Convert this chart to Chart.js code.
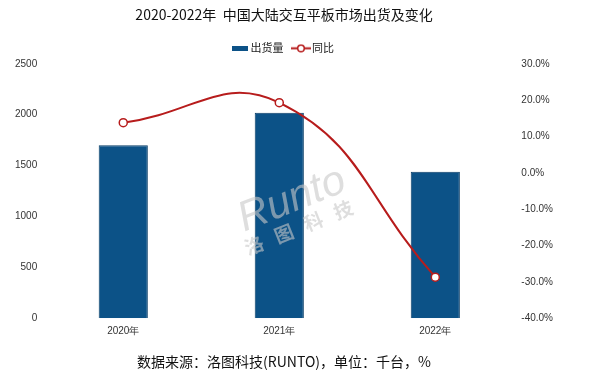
<!DOCTYPE html>
<html>
<head>
<meta charset="utf-8">
<script src="https://cdn.jsdelivr.net/npm/chart.js@4/dist/chart.umd.min.js"></script>
<style>
  html, body { margin: 0; padding: 0; background: #fff; }
  #wrap { width: 595px; height: 376px; }
</style>
</head>
<body>
<div id="wrap"><canvas id="grafico" width="595" height="376"></canvas></div>
<script>
const years = ['2020年', '2021年', '2022年'];
const shipments = [1700, 2020, 1440];
const yoy = [13.8, 19.3, -28.7];
const leftTicks = [0, 500, 1000, 1500, 2000, 2500];
const rightTicks = [-40, -30, -20, -10, 0, 10, 20, 30];

const navy = '#0c5287';
const red = '#b71c1c';

// iconos de la leyenda
function iconBar() {
  const c = document.createElement('canvas');
  c.width = 16; c.height = 5;
  const x = c.getContext('2d');
  x.fillStyle = navy;
  x.fillRect(0, 0, 16, 5);
  return c;
}
function iconLine() {
  const c = document.createElement('canvas');
  c.width = 20; c.height = 9;
  const x = c.getContext('2d');
  x.strokeStyle = red;
  x.lineWidth = 2;
  x.beginPath(); x.moveTo(0, 4.5); x.lineTo(20, 4.5); x.stroke();
  x.fillStyle = '#fff';
  x.lineWidth = 1.5;
  x.beginPath(); x.arc(10, 4.5, 3.3, 0, Math.PI * 2); x.fill(); x.stroke();
  return c;
}

const watermark = {
  id: 'watermark',
  afterDatasetsDraw(chart) {
    const ctx = chart.ctx;
    ctx.save();
    ctx.translate(292, 200);
    ctx.rotate(-0.38);
    ctx.fillStyle = 'rgba(200,200,200,0.6)';
    ctx.font = 'italic 42px "Liberation Sans"';
    ctx.textAlign = 'center';
    ctx.fillText('Runto', 0, 0);
    ctx.font = 'bold 19px "Noto Sans CJK SC"';
    ctx.fillText('洛   图   科   技', -4, 28);
    ctx.restore();
  }
};

let chart = new Chart(document.getElementById('grafico'), {
  data: {
    labels: years,
    datasets: [
      {
        type: 'bar',
        label: '出货量',
        data: shipments,
        backgroundColor: navy,
        borderColor: '#083d66',
        borderWidth: 1,
        barPercentage: 0.63,
        categoryPercentage: 0.5,
        yAxisID: 'y',
        order: 2
      },
      {
        type: 'line',
        label: '同比',
        data: yoy,
        borderColor: red,
        borderWidth: 2,
        tension: 0.45,
        pointRadius: 4,
        pointBorderWidth: 1.5,
        pointBackgroundColor: '#fff',
        pointBorderColor: red,
        yAxisID: 'y1',
        order: 1
      }
    ]
  },
  options: {
    responsive: false,
    animation: false,
    layout: { padding: { left: 7, right: 34, top: 2, bottom: 4 } },
    plugins: {
      title: {
        display: true,
        text: '2020-2022年  中国大陆交互平板市场出货及变化',
        color: '#111',
        font: { family: '"Noto Sans CJK SC"', size: 14, weight: 'normal' },
        padding: { top: 4, bottom: 8 }
      },
      subtitle: {
        display: true,
        position: 'bottom',
        text: '数据来源：洛图科技(RUNTO)，单位：千台，%',
        color: '#111',
        font: { family: '"Noto Sans CJK SC"', size: 14, weight: 'normal' },
        padding: { top: 9, bottom: 2 }
      },
      legend: {
        position: 'top',
        labels: {
          usePointStyle: true,
          color: '#222',
          font: { family: '"Noto Sans CJK SC"', size: 11 },
          boxHeight: 9,
          padding: 12,
          generateLabels: (c) => c.data.datasets.map((ds, i) => ({
            text: ds.label,
            pointStyle: i === 0 ? iconBar() : iconLine(),
            fontColor: '#222',
            datasetIndex: i,
            hidden: false,
            lineWidth: 0
          }))
        }
      },
      tooltip: { enabled: false }
    },
    scales: {
      x: {
        grid: { display: false, drawTicks: false },
        border: { display: false },
        ticks: { color: '#333', font: { family: '"Liberation Sans"', size: 10 }, padding: 7 }
      },
      y: {
        position: 'left',
        min: 0,
        max: 2500,
        afterBuildTicks: (ax) => { ax.ticks = leftTicks.map(v => ({ value: v })); },
        grid: { display: false, drawTicks: false },
        border: { display: false },
        ticks: {
          color: '#333',
          font: { family: '"Liberation Sans"', size: 10 },
          padding: 8,
          callback: (v) => String(v)
        }
      },
      y1: {
        position: 'right',
        min: -40,
        max: 30,
        afterBuildTicks: (ax) => { ax.ticks = rightTicks.map(v => ({ value: v })); },
        grid: { display: false, drawTicks: false },
        border: { display: false },
        ticks: {
          color: '#333',
          font: { family: '"Liberation Sans"', size: 10 },
          padding: 8,
          crossAlign: 'near',
          callback: (v) => v.toFixed(1) + '%'
        }
      }
    }
  },
  plugins: [watermark]
});
</script>
</body>
</html>
